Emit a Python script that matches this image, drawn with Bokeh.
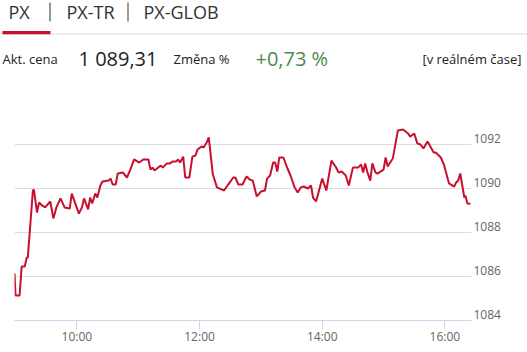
import pandas as pd
from bokeh.plotting import figure
from bokeh.layouts import column
from bokeh.models import Range1d, FixedTicker, DatetimeTickFormatter, NumeralTickFormatter, ColumnDataSource
from bokeh.core.properties import value
from bokeh.embed import file_html
from bokeh.resources import INLINE

# ---------------- data ----------------
DAY = "2024-01-01 "
times = ["08:59", "09:00", "09:04", "09:06", "09:09", "09:11", "09:12", "09:17", "09:18", "09:21",
         "09:23", "09:26", "09:29", "09:34", "09:37", "09:40", "09:44", "09:48", "09:53", "09:55",
         "10:02", "10:05", "10:07", "10:11", "10:13", "10:15", "10:18", "10:20", "10:23", "10:25",
         "10:31", "10:33", "10:35", "10:38", "10:40", "10:45", "10:49", "10:52", "10:56", "11:01",
         "11:05", "11:10", "11:12", "11:14", "11:16", "11:22", "11:24", "11:28", "11:31", "11:34",
         "11:37", "11:39", "11:41", "11:44", "11:46", "11:50", "11:53", "11:56", "11:58", "12:02",
         "12:04", "12:07", "12:09", "12:13", "12:14", "12:17", "12:22", "12:24", "12:28", "12:33",
         "12:35", "12:38", "12:42", "12:46", "12:49", "12:52", "12:56", "13:00", "13:04", "13:06",
         "13:09", "13:12", "13:14", "13:16", "13:18", "13:22", "13:26", "13:29", "13:33", "13:36",
         "13:39", "13:42", "13:46", "13:49", "13:51", "13:54", "14:00", "14:04", "14:09", "14:13",
         "14:16", "14:19", "14:23", "14:26", "14:30", "14:35", "14:38", "14:40", "14:42", "14:44",
         "14:47", "14:49", "14:52", "14:54", "15:00", "15:02", "15:04", "15:09", "15:14", "15:19",
         "15:24", "15:26", "15:30", "15:33", "15:36", "15:39", "15:43", "15:49", "15:51", "15:56",
         "15:59", "16:04", "16:09", "16:11", "16:13", "16:15", "16:19", "16:20", "16:22", "16:25"]
values = [1086.14, 1085.14, 1085.14, 1086.45, 1086.45, 1086.86, 1086.86, 1089.91, 1089.95, 1088.91,
          1089.36, 1089.23, 1089.14, 1089.41, 1088.64, 1089.14, 1089.55, 1089.14, 1089.09, 1089.77,
          1088.86, 1089.14, 1089.55, 1089.05, 1089.59, 1089.32, 1089.77, 1089.59, 1090.14, 1090.32,
          1090.36, 1090.45, 1090.18, 1090.18, 1090.68, 1090.73, 1090.50, 1090.82, 1091.32, 1091.18,
          1091.32, 1091.32, 1090.86, 1090.95, 1090.82, 1091.05, 1090.95, 1091.14, 1091.14, 1091.23,
          1091.23, 1091.32, 1091.18, 1091.45, 1090.50, 1090.50, 1091.45, 1091.50, 1091.77, 1091.91,
          1091.86, 1092.09, 1092.32, 1090.64, 1090.50, 1090.05, 1089.95, 1089.91, 1090.18, 1090.50,
          1090.50, 1090.18, 1090.18, 1090.55, 1090.41, 1090.36, 1089.64, 1089.86, 1089.91, 1090.45,
          1090.59, 1091.18, 1091.18, 1090.77, 1091.41, 1091.41, 1090.91, 1090.59, 1090.05, 1089.82,
          1090.05, 1090.09, 1090.00, 1090.14, 1089.59, 1089.41, 1090.45, 1089.91, 1091.27, 1091.00,
          1090.73, 1090.77, 1090.59, 1090.14, 1090.95, 1090.95, 1091.09, 1090.73, 1091.14, 1090.77,
          1090.36, 1091.14, 1090.73, 1090.68, 1090.86, 1091.41, 1091.00, 1091.36, 1092.64, 1092.68,
          1092.50, 1092.36, 1092.50, 1092.05, 1092.00, 1091.82, 1092.14, 1091.64, 1091.64, 1091.41,
          1091.09, 1090.23, 1090.09, 1090.27, 1090.36, 1090.68, 1089.59, 1089.68, 1089.32, 1089.31]
range_end = "16:26"
y_ticks = [1084, 1086, 1088, 1090, 1092, 1094]
y_labelled = [1084, 1086, 1088, 1090, 1092]
y_range = [1084, 1094]
x_tick_labels = ["10:00", "12:00", "14:00", "16:00"]
tabs = ["PX", "PX-TR", "PX-GLOB"]
price_label = "Akt. cena"
price_value = "1 089,31"
change_label = "Změna %"
change_value = "+0,73 %"
realtime_note = "[v reálném čase]"

FONT = value("Open Sans")
RED = "#c8102e"

# ---------------- header ----------------
h = figure(width=527, height=80, x_range=Range1d(0, 527), y_range=Range1d(80, 0),
           output_backend="svg", toolbar_location=None, min_border=0,
           x_axis_type=None, y_axis_type=None, outline_line_color=None)
h.frame_align = False
h.xgrid.grid_line_color = None
h.ygrid.grid_line_color = None

TAB_Y = 11
ROW_Y = 58
h.text(x=[8, 66, 143], y=[TAB_Y] * 3, text=tabs, text_font=FONT, text_font_size="18px",
       text_color="#333333", text_baseline="alphabetic")
h.segment(x0=[49.5, 127.5], y0=[2, 2], x1=[49.5, 127.5], y1=[21, 21], line_color="#333333", line_width=1)
h.segment(x0=[0], y0=[33.5], x1=[527], y1=[33.5], line_color="#dcdcdc", line_width=1)
h.quad(left=[2], right=[50], top=[30.5], bottom=[33.8], fill_color=RED, line_color=None)

h.text(x=[2, 173], y=[ROW_Y, ROW_Y], text=[price_label, change_label], text_font=FONT,
       text_font_size="13px", text_color="#222222", text_baseline="alphabetic")
h.text(x=[78], y=[ROW_Y], text=[price_value], text_font=FONT, text_font_size="20px",
       text_color="#222222", text_baseline="alphabetic")
h.text(x=[255], y=[ROW_Y], text=[change_value], text_font=FONT, text_font_size="20px",
       text_color="#4a8a4a", text_baseline="alphabetic")
h.text(x=[521], y=[ROW_Y], text=[realtime_note], text_font=FONT, text_font_size="13px",
       text_color="#222222", text_baseline="alphabetic", text_align="right")

# ---------------- chart ----------------
t = pd.to_datetime([DAY + s for s in times])
src = ColumnDataSource(dict(t=t, v=values))
t_end = pd.Timestamp(DAY + range_end)
epoch = pd.Timestamp("1970-01-01")
x_ticks = [(pd.Timestamp(DAY + s) - epoch).total_seconds() * 1000 for s in x_tick_labels]

p = figure(width=527, height=272, x_axis_type="datetime", y_axis_location="right",
           x_range=Range1d(t[0], t_end), y_range=Range1d(*y_range),
           min_border_left=14, min_border_right=56, min_border_top=20, min_border_bottom=32,
           output_backend="svg", toolbar_location=None, outline_line_color=None)
p.frame_align = False

p.line(x="t", y="v", source=src, line_color=RED, line_width=2)

p.xgrid.grid_line_color = None
p.ygrid.ticker = FixedTicker(ticks=y_ticks)
p.ygrid.grid_line_color = "#dddddd"

p.xaxis.ticker = FixedTicker(ticks=x_ticks)
p.xaxis.formatter = DatetimeTickFormatter(hours="%H:%M", minutes="%H:%M", hourmin="%H:%M", days="%H:%M")
p.xaxis.axis_line_color = "#ccd6eb"
p.xaxis.major_tick_line_color = "#ccd6eb"
p.xaxis.major_tick_in = 0
p.xaxis.major_tick_out = 9
p.xaxis.minor_tick_line_color = None
p.xaxis.major_label_standoff = -2
p.xaxis.major_label_text_font = "Open Sans"
p.xaxis.major_label_text_font_size = "12px"
p.xaxis.major_label_text_color = "#666666"

# labels sit ~6px above their grid lines, as in the reference
LABEL_LIFT = 0.27
p.yaxis.ticker = FixedTicker(ticks=[v + LABEL_LIFT for v in y_labelled])
p.yaxis.formatter = NumeralTickFormatter(format="0")
p.yaxis.axis_line_color = None
p.yaxis.major_tick_line_color = None
p.yaxis.minor_tick_line_color = None
p.yaxis.major_tick_in = 0
p.yaxis.major_tick_out = 0
p.yaxis.major_label_standoff = 2
p.yaxis.major_label_text_font = "Open Sans"
p.yaxis.major_label_text_font_size = "12px"
p.yaxis.major_label_text_color = "#666666"

layout = column(h, p, spacing=0)
open("out.html", "w").write(file_html(layout, INLINE))
